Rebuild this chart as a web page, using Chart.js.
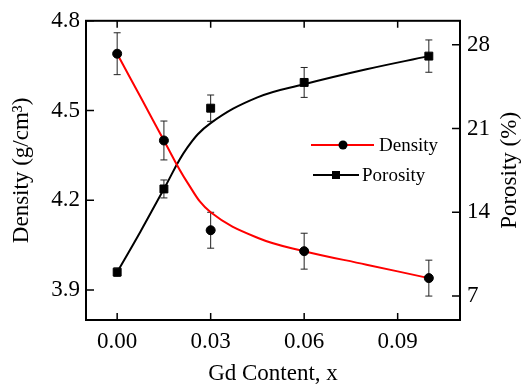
<!DOCTYPE html>
<html>
<head>
<meta charset="utf-8">
<script src="https://cdn.jsdelivr.net/npm/chart.js@4.4.1/dist/chart.umd.min.js"></script>
<style>
  body { margin: 0; background: #fff; }
  #wrap { width: 522px; height: 388px; }
</style>
</head>
<body>
<div id="wrap"><canvas id="densityChart" width="522" height="388"></canvas></div>
<script>
// measured points
const gdContent = [0, 0.015, 0.03, 0.06, 0.1];
const density = [4.69, 4.40, 4.10, 4.03, 3.94];
const densityErr = [0.07, 0.065, 0.06, 0.06, 0.06];
const porosity = [9.0, 15.95, 22.7, 24.85, 27.05];
const porosityErr = [0.35, 0.75, 1.1, 1.25, 1.35];

// fitted curves
const fitX = [0, 0.0075, 0.015, 0.0225, 0.03, 0.045, 0.06, 0.08, 0.1];
const densityFit = [4.69, 4.545, 4.40, 4.26, 4.16, 4.075, 4.03, 3.985, 3.94];
const porosityFit = [9.0, 12.4, 15.95, 19.4, 21.45, 23.6, 24.7, 25.95, 27.05];

const xTicks = [0, 0.03, 0.06, 0.09];
const densityTicks = [3.9, 4.2, 4.5, 4.8];
const porosityTicks = [7, 14, 21, 28];

const FONT = 'Liberation Serif';

const toXY = (xs, ys) => xs.map((x, i) => ({ x: x, y: ys[i] }));

const extras = {
  id: 'extras',
  beforeDatasetsDraw(chart) {
    const ctx = chart.ctx;
    const xs = chart.scales.x, yl = chart.scales.yDensity, yr = chart.scales.yPorosity;
    ctx.save();
    ctx.strokeStyle = '#222';
    ctx.lineWidth = 1;
    const bar = (x, lo, hi) => {
      ctx.beginPath();
      ctx.moveTo(x, lo); ctx.lineTo(x, hi);
      ctx.moveTo(x - 3.5, lo); ctx.lineTo(x + 3.5, lo);
      ctx.moveTo(x - 3.5, hi); ctx.lineTo(x + 3.5, hi);
      ctx.stroke();
    };
    gdContent.forEach((g, i) => {
      const px = xs.getPixelForValue(g);
      bar(px, yl.getPixelForValue(density[i] - densityErr[i]), yl.getPixelForValue(density[i] + densityErr[i]));
      bar(px, yr.getPixelForValue(porosity[i] - porosityErr[i]), yr.getPixelForValue(porosity[i] + porosityErr[i]));
    });
    ctx.restore();
  },
  afterDraw(chart) {
    const ctx = chart.ctx;
    const a = chart.chartArea;
    const xs = chart.scales.x, yl = chart.scales.yDensity, yr = chart.scales.yPorosity;
    ctx.save();
    ctx.strokeStyle = '#000';
    ctx.lineWidth = 2;
    ctx.strokeRect(a.left, a.top, a.right - a.left, a.bottom - a.top);

    // inward ticks
    ctx.lineWidth = 1.5;
    ctx.beginPath();
    xTicks.forEach(v => {
      const p = xs.getPixelForValue(v);
      ctx.moveTo(p, a.bottom); ctx.lineTo(p, a.bottom - 7);
      ctx.moveTo(p, a.top); ctx.lineTo(p, a.top + 7);
    });
    densityTicks.forEach(v => {
      const p = yl.getPixelForValue(v);
      ctx.moveTo(a.left, p); ctx.lineTo(a.left + 8, p);
    });
    porosityTicks.forEach(v => {
      const p = yr.getPixelForValue(v);
      ctx.moveTo(a.right, p); ctx.lineTo(a.right - 8, p);
    });
    ctx.stroke();

    // right axis title, reading bottom to top
    ctx.fillStyle = '#000';
    ctx.font = '23px "' + FONT + '"';
    ctx.textAlign = 'center';
    ctx.textBaseline = 'middle';
    ctx.translate(510, (a.top + a.bottom) / 2);
    ctx.rotate(-Math.PI / 2);
    ctx.fillText('Porosity (%)', 0, 0);
    ctx.restore();

    // legend
    ctx.save();
    ctx.font = '19px "' + FONT + '"';
    ctx.textBaseline = 'middle';
    ctx.fillStyle = '#000';
    ctx.lineWidth = 2;
    ctx.strokeStyle = '#ff0000';
    ctx.beginPath(); ctx.moveTo(311, 145); ctx.lineTo(374, 145); ctx.stroke();
    ctx.beginPath(); ctx.arc(343, 145, 4.5, 0, Math.PI * 2); ctx.fill();
    ctx.fillText('Density', 379, 146);
    ctx.strokeStyle = '#000';
    ctx.beginPath(); ctx.moveTo(313, 175); ctx.lineTo(359, 175); ctx.stroke();
    ctx.fillRect(332, 171, 8, 8);
    ctx.fillText('Porosity', 362, 176);
    ctx.restore();
  }
};

const ctx = document.getElementById('densityChart').getContext('2d');
new Chart(ctx, {
  type: 'scatter',
  data: {
    datasets: [
      {
        label: 'Density',
        data: toXY(gdContent, density),
        yAxisID: 'yDensity',
        backgroundColor: '#000',
        borderColor: '#000',
        pointStyle: 'circle',
        pointRadius: 4.5,
        showLine: false
      },
      {
        label: 'Porosity',
        data: toXY(gdContent, porosity),
        yAxisID: 'yPorosity',
        backgroundColor: '#000',
        borderColor: '#000',
        pointStyle: 'rect',
        pointRadius: 5.6,
        showLine: false
      },
      {
        label: 'Density fit',
        data: toXY(fitX, densityFit),
        yAxisID: 'yDensity',
        borderColor: '#ff0000',
        borderWidth: 2,
        pointRadius: 0,
        showLine: true,
        tension: 0.4
      },
      {
        label: 'Porosity fit',
        data: toXY(fitX, porosityFit),
        yAxisID: 'yPorosity',
        borderColor: '#000',
        borderWidth: 2,
        pointRadius: 0,
        showLine: true,
        tension: 0.4
      }
    ]
  },
  options: {
    responsive: false,
    maintainAspectRatio: false,
    animation: false,
    layout: { padding: { top: 18, left: 0, right: 0, bottom: 0 } },
    scales: {
      x: {
        type: 'linear',
        min: -0.01,
        max: 0.11,
        grid: { display: false, drawTicks: false },
        border: { display: false },
        afterBuildTicks: s => { s.ticks = xTicks.map(v => ({ value: v })); },
        afterFit: s => { s.height = 68; },
        ticks: {
          padding: 8,
          color: '#000',
          font: { family: FONT, size: 23 },
          callback: v => v.toFixed(2)
        },
        title: {
          display: true,
          text: 'Gd Content, x',
          color: '#000',
          font: { family: FONT, size: 23 },
          padding: { top: 2, bottom: 0 }
        }
      },
      yDensity: {
        position: 'left',
        min: 3.8,
        max: 4.8,
        grid: { display: false, drawTicks: false },
        border: { display: false },
        afterBuildTicks: s => { s.ticks = densityTicks.map(v => ({ value: v })); },
        afterFit: s => { s.width = 86; },
        ticks: {
          padding: 6,
          color: '#000',
          font: { family: FONT, size: 23 },
          callback: v => v.toFixed(1)
        },
        title: {
          display: true,
          text: 'Density (g/cm³)',
          color: '#000',
          font: { family: FONT, size: 23 },
          padding: { top: 8, bottom: 0 }
        }
      },
      yPorosity: {
        position: 'right',
        min: 5,
        max: 30,
        grid: { display: false, drawTicks: false },
        border: { display: false },
        afterBuildTicks: s => { s.ticks = porosityTicks.map(v => ({ value: v })); },
        afterFit: s => { s.width = 62; },
        ticks: {
          padding: 7,
          color: '#000',
          font: { family: FONT, size: 23 },
          callback: v => String(v)
        }
      }
    },
    plugins: {
      legend: { display: false },
      tooltip: { enabled: false }
    }
  },
  plugins: [extras]
});
</script>
</body>
</html>
